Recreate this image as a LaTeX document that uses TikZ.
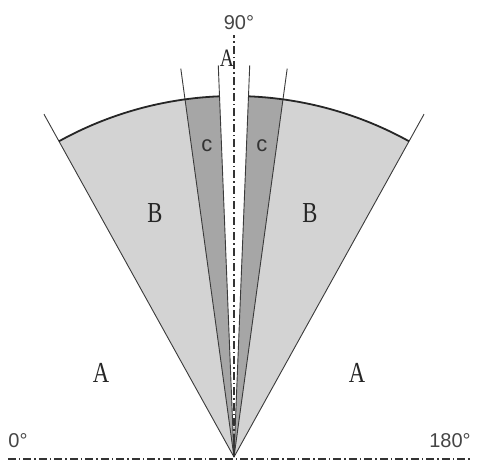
\documentclass[tikz,border=0pt]{standalone}
\usepackage{fontspec}
\usepackage{tikz}
\usetikzlibrary{positioning}
\newfontfamily\zonefont[FakeStretch=0.78]{Liberation Serif}
\newfontfamily\degfont{Liberation Sans}
\definecolor{zoneB}{HTML}{D3D3D3}
\definecolor{zoneC}{HTML}{A6A6A6}
\definecolor{edgegray}{HTML}{3A3A3A}
\definecolor{deggray}{HTML}{454545}

\begin{document}
\begin{tikzpicture}[
    x=1pt, y=1pt,
    ray/.style={draw=edgegray, line width=0.9pt},
    rim/.style={draw=black!85, line width=1.8pt},
    axis/.style={draw=black!80, line width=1.1pt, dash pattern=on 8pt off 3pt on 1.5pt off 3pt},
    zone/.style={font=\zonefont\fontsize{29}{29}\selectfont, text=black!85, inner sep=0pt},
    subzone/.style={font=\degfont\fontsize{22}{22}\selectfont, text=black!80, inner sep=0pt},
    deg/.style={font=\degfont\fontsize{20}{20}\selectfont, text=deggray, inner sep=0pt}
]
\useasboundingbox (-234,-2) rectangle (246,457);
\coordinate (apex) at (0,0);

% shaded zones
\fill[zoneB] (apex) -- (119:361) arc[start angle=119, end angle=92.3, radius=361] -- cycle;
\fill[zoneB] (apex) -- (87.7:361) arc[start angle=87.7, end angle=61, radius=361] -- cycle;
\fill[zoneC] (apex) -- (97.8:361) arc[start angle=97.8, end angle=92.3, radius=361] -- cycle;
\fill[zoneC] (apex) -- (87.7:361) arc[start angle=87.7, end angle=82.2, radius=361] -- cycle;

% rays
\coordinate (outL) at (119:392);
\coordinate (outR) at (61:392);
\coordinate (midL) at (97.8:392);
\coordinate (midR) at (82.2:392);
\coordinate (inL) at (92.3:392);
\coordinate (inR) at (87.7:392);
\draw[ray] (apex) -- (outL);
\draw[ray] (apex) -- (outR);
\draw[ray] (apex) -- (midL);
\draw[ray] (apex) -- (midR);
\draw[ray] (apex) -- (inL);
\draw[ray] (apex) -- (inR);

% outer rim
\draw[rim] (119:361) arc[start angle=119, end angle=92.3, radius=361];
\draw[rim] (87.7:361) arc[start angle=87.7, end angle=61, radius=361];

% axes
\coordinate (vtop) at (0,422);
\coordinate (hleft) at (-226,-1.5);
\coordinate (hright) at (236,-1.5);
\draw[axis] (apex) -- (vtop);
\draw[axis, line width=2pt] (hleft) -- (hright);

% labels
\node[deg] (d90) at (5,434) {90°};
\node[deg] (d0) at (-216,16) {0°};
\node[deg] (d180) at (216,16) {180°};
\node[zone, font=\zonefont\fontsize{25}{25}\selectfont] (aTop) at (-7,399) {A};
\node[zone] (aLeft) at (-133,84) {A};
\node[zone] (aRight) at (123,84) {A};
\node[zone] (bLeft) at (-79,244) {B};
\node[zone] (bRight) at (76,244) {B};
\node[subzone] (cLeft) at (-27,311) {c};
\node[subzone] (cRight) at (28,311) {c};
\end{tikzpicture}
\end{document}
